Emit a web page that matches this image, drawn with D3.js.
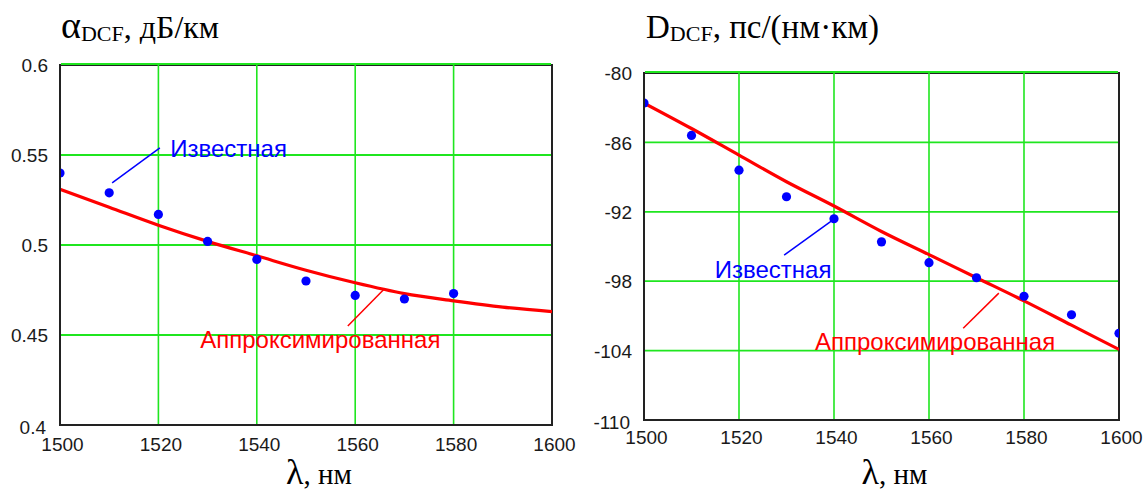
<!DOCTYPE html>
<html>
<head>
<meta charset="utf-8">
<script src="https://cdn.jsdelivr.net/npm/d3@7"></script>
<style>
  html, body { margin: 0; padding: 0; background: #ffffff; }
  svg { display: block; }
  .tick text { font-family: "Liberation Sans", Arial, sans-serif; font-size: 19px; fill: #1a1a1a; }
  .title { font-family: "Liberation Serif", "Times New Roman", serif; fill: #000; }
  .note { font-family: "Liberation Sans", Arial, sans-serif; font-size: 24px; }
</style>
</head>
<body>
<svg id="chart" width="1146" height="495"></svg>
<script>
// ---------- data ----------
const xTicks = [1500, 1520, 1540, 1560, 1580, 1600];

// left chart: attenuation alpha_DCF, dB/km
const alphaTicks = [0.4, 0.45, 0.5, 0.55, 0.6];
const alphaTickLabels = ["0.4", "0.45", "0.5", "0.55", "0.6"];
const lambdaKnownA = [1500, 1510, 1520, 1530, 1540, 1550, 1560, 1570, 1580];
const alphaKnown = [0.540, 0.529, 0.517, 0.502, 0.492, 0.480, 0.472, 0.470, 0.473];
const lambdaFitA = [1500, 1510, 1520, 1530, 1540, 1550, 1560, 1570, 1580, 1590, 1600];
const alphaFit = [0.531, 0.521, 0.511, 0.502, 0.494, 0.486, 0.479, 0.473, 0.469, 0.4655, 0.463];

// right chart: dispersion D_DCF, ps/(nm km)
const dTicks = [-110, -104, -98, -92, -86, -80];
const dTickLabels = ["-110", "-104", "-98", "-92", "-86", "-80"];
const lambdaKnownD = [1500, 1510, 1520, 1530, 1540, 1550, 1560, 1570, 1580, 1590, 1600];
const dKnown = [-82.6, -85.4, -88.4, -90.7, -92.6, -94.6, -96.4, -97.7, -99.3, -100.9, -102.5];
const lambdaFitD = [1500, 1510, 1520, 1530, 1540, 1550, 1560, 1570, 1580, 1590, 1600];
const dFit = [-82.6, -84.8, -87.1, -89.4, -91.5, -93.7, -95.7, -97.7, -99.7, -101.8, -103.9];

// ---------- drawing ----------
const svg = d3.select("#chart");
svg.append("rect").attr("width", 1146).attr("height", 495).attr("fill", "#fff");

function panel(cfg) {
  const x = d3.scaleLinear().domain([1500, 1600]).range([cfg.x0, cfg.x1]);
  const y = d3.scaleLinear().domain(cfg.yDomain).range([cfg.y0, cfg.y1]);
  const g = svg.append("g");
  const clipId = "clip" + cfg.id;
  svg.append("clipPath").attr("id", clipId)
    .append("rect").attr("x", cfg.x0).attr("y", cfg.y1)
    .attr("width", cfg.x1 - cfg.x0).attr("height", cfg.y0 - cfg.y1);

  // frame
  g.append("rect").attr("x", cfg.x0).attr("y", cfg.y1)
    .attr("width", cfg.x1 - cfg.x0).attr("height", cfg.y0 - cfg.y1)
    .attr("fill", "none").attr("stroke", "#222").attr("stroke-width", 2);

  // grid
  g.selectAll(".vg").data(xTicks.slice(1, -1)).enter().append("line")
    .attr("x1", d => x(d)).attr("x2", d => x(d))
    .attr("y1", cfg.y0 - 1).attr("y2", cfg.y1)
    .attr("stroke", "#1fe61f").attr("stroke-width", 1.6);
  g.selectAll(".hg").data(cfg.yTicks.slice(1)).enter().append("line")
    .attr("y1", d => y(d) - (d === cfg.yDomain[1] ? 1 : 0))
    .attr("y2", d => y(d) - (d === cfg.yDomain[1] ? 1 : 0))
    .attr("x1", cfg.x0 + 1).attr("x2", cfg.x1 - 1)
    .attr("stroke", "#1fe61f").attr("stroke-width", 1.8);

  // fit line
  const line = d3.line().x(d => x(d[0])).y(d => y(d[1])).curve(d3.curveMonotoneX);
  g.append("path")
    .datum(cfg.fitX.map((v, i) => [v, cfg.fitY[i]]))
    .attr("d", line).attr("fill", "none")
    .attr("stroke", "#ff0000").attr("stroke-width", 3.2)
    .attr("clip-path", `url(#${clipId})`);

  // known points
  g.append("g").attr("clip-path", `url(#${clipId})`)
    .selectAll("circle").data(cfg.knownX.map((v, i) => [v, cfg.knownY[i]]))
    .enter().append("circle")
    .attr("cx", d => x(d[0])).attr("cy", d => y(d[1])).attr("r", 4.6)
    .attr("fill", "#0000ff");

  // re-draw left axis edge over points
  g.append("line").attr("x1", cfg.x0).attr("x2", cfg.x0).attr("y1", cfg.y1).attr("y2", cfg.y0)
    .attr("stroke", "#222").attr("stroke-width", 2);

  // axes labels
  const xa = svg.append("g").attr("transform", `translate(0,${cfg.y0})`)
    .call(d3.axisBottom(x).tickValues(xTicks).tickSize(0).tickPadding(cfg.xPad).tickFormat(d3.format("d")));
  xa.select(".domain").remove();
  xa.selectAll("text").attr("dx", 2);

  const ya = svg.append("g").attr("transform", `translate(${cfg.x0},0)`)
    .call(d3.axisLeft(y).tickValues(cfg.yTicks).tickSize(0).tickPadding(12)
      .tickFormat((d, i) => cfg.yLabels[i]));
  ya.select(".domain").remove();
  ya.selectAll("text").attr("dy", (d, i) => i === 0 ? "0.45em" : "0.35em")
    .attr("dx", (d, i) => i === 0 ? -2 : 0);

  // title
  const t = svg.append("text").attr("class", "title")
    .attr("x", cfg.titleX).attr("y", 38);
  t.append("tspan").attr("font-size", cfg.titleSymSize).text(cfg.titleSym);
  t.append("tspan").attr("font-size", 22).attr("dy", 3).text("DCF");
  t.append("tspan").attr("font-size", cfg.titleRestSize).attr("dy", -3).text(cfg.titleRest);

  // x axis title
  const xt = svg.append("text").attr("class", "title")
    .attr("x", (cfg.x0 + cfg.x1) / 2 + 13).attr("y", 484).attr("text-anchor", "middle");
  xt.append("tspan").attr("font-size", 36).text("λ");
  xt.append("tspan").attr("font-size", 29).text(", нм");

  // annotations
  cfg.notes.forEach(n => {
    svg.append("line")
      .attr("x1", x(n.lx1)).attr("y1", y(n.ly1)).attr("x2", x(n.lx2)).attr("y2", y(n.ly2))
      .attr("stroke", n.color).attr("stroke-width", 1.5);
    svg.append("text").attr("class", "note")
      .attr("x", x(n.tx)).attr("y", y(n.ty)).attr("fill", n.color).text(n.text);
  });
}

panel({
  id: "A", x0: 60, x1: 552, y0: 425, y1: 65, yDomain: [0.4, 0.6],
  yTicks: alphaTicks, yLabels: alphaTickLabels, xPad: 13,
  knownX: lambdaKnownA, knownY: alphaKnown, fitX: lambdaFitA, fitY: alphaFit,
  titleX: 61, titleSym: "α", titleSymSize: 38, titleRest: ", дБ/км", titleRestSize: 32,
  notes: [
    { text: "Известная", color: "#0000ff", tx: 1522.4, ty: 0.5489,
      lx1: 1520.3, ly1: 0.5539, lx2: 1510.6, ly2: 0.5345 },
    { text: "Аппроксимированная", color: "#ff0000", tx: 1528.5, ty: 0.4428,
      lx1: 1558.5, ly1: 0.4550, lx2: 1565.9, ly2: 0.4756 }
  ]
});

panel({
  id: "D", x0: 644, x1: 1119, y0: 420, y1: 73, yDomain: [-110, -80],
  yTicks: dTicks, yLabels: dTickLabels, xPad: 11,
  knownX: lambdaKnownD, knownY: dKnown, fitX: lambdaFitD, fitY: dFit,
  titleX: 646, titleSym: "D", titleSymSize: 33, titleRest: ", пс/(нм·км)", titleRestSize: 33,
  notes: [
    { text: "Известная", color: "#0000ff", tx: 1514.9, ty: -97.73,
      lx1: 1529.5, ly1: -95.74, lx2: 1540.0, ly2: -92.63 },
    { text: "Аппроксимированная", color: "#ff0000", tx: 1536.0, ty: -103.96,
      lx1: 1567.2, ly1: -102.06, lx2: 1574.7, ly2: -99.03 }
  ]
});
</script>
</body>
</html>
